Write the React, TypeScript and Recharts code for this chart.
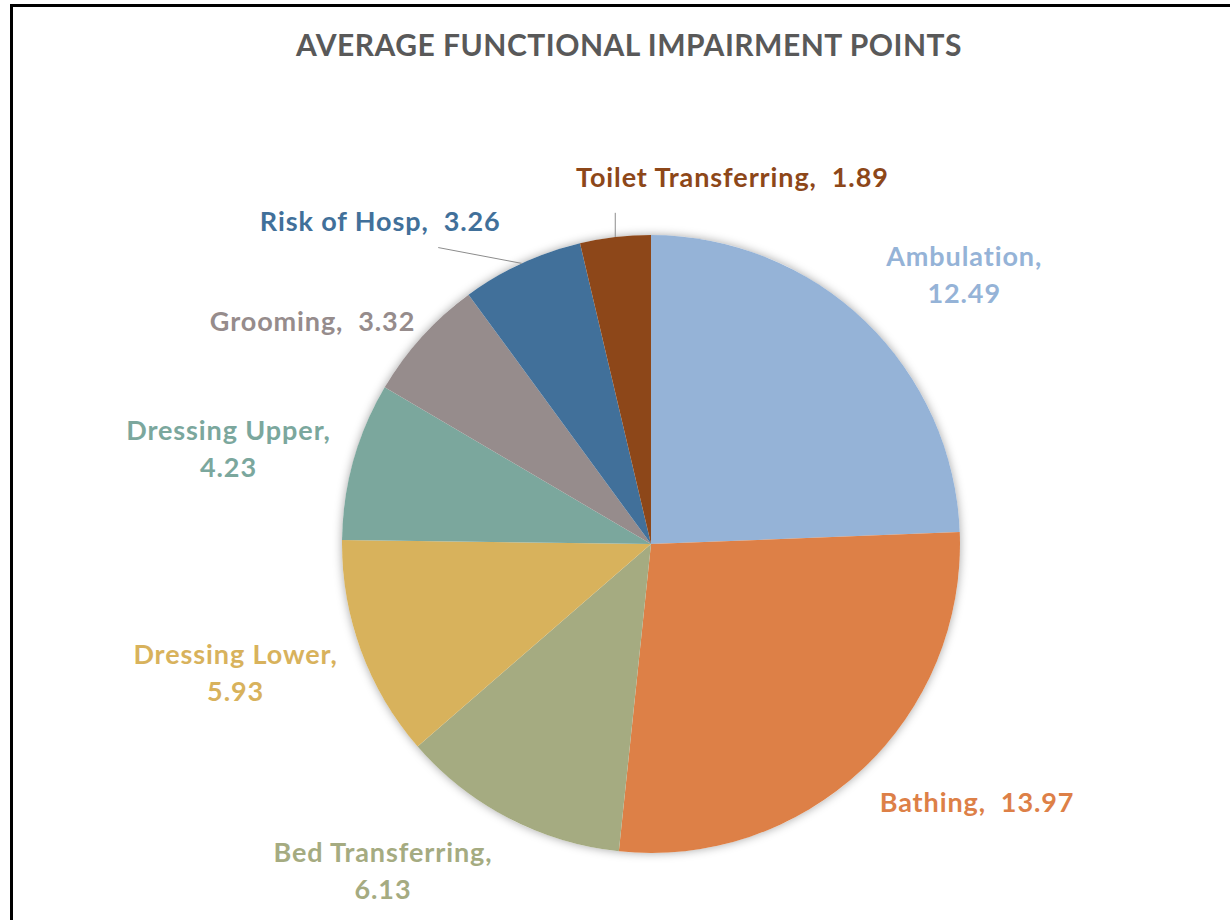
import React from 'react';
import { PieChart, Pie, Cell } from 'recharts';

const categories = [
  'Ambulation',
  'Bathing',
  'Bed Transferring',
  'Dressing Lower',
  'Dressing Upper',
  'Grooming',
  'Risk of Hosp',
  'Toilet Transferring',
];
const points = [12.49, 13.97, 6.13, 5.93, 4.23, 3.32, 3.26, 1.89];
const colors = ['#95B3D7', '#DD8047', '#A5AB81', '#D8B25C', '#7BA79D', '#968C8C', '#41709A', '#8D4719'];

const chartData = categories.map((name, i) => ({ name, value: points[i] }));

// label placement tweaks (offset from a point 420px out along the slice middle)
const labelLayout: Record<string, { dx: number; dy: number; wrap: boolean; line?: [number, number] }> = {
  'Ambulation': { dx: 22, dy: 32, wrap: true },
  'Bathing': { dx: 39, dy: -49, wrap: false },
  'Bed Transferring': { dx: -74, dy: -47, wrap: true },
  'Dressing Lower': { dx: -21, dy: -17, wrap: true },
  'Dressing Upper': { dx: -18, dy: 16, wrap: true },
  'Grooming': { dx: -27, dy: 58, wrap: false },
  'Risk of Hosp': { dx: -95, dy: 58, wrap: false, line: [58, 27] },
  'Toilet Transferring': { dx: 130, dy: 50, wrap: false, line: [-116, 36] },
};

const RAD = Math.PI / 180;
const FONT = 'Lato, "Open Sans", sans-serif';

const renderLabel = (props: any) => {
  const { cx, cy, midAngle, outerRadius, index } = props;
  const name = categories[index];
  const value = points[index].toFixed(2);
  const lay = labelLayout[name];
  const cos = Math.cos(-midAngle * RAD);
  const sin = Math.sin(-midAngle * RAD);
  const x = cx + 420 * cos + lay.dx;
  const y = cy + 420 * sin + lay.dy;
  const color = colors[index];
  let leader = null;
  if (lay.line) {
    const sx = cx + outerRadius * cos;
    const sy = cy + outerRadius * sin;
    const ex = index === 7 ? sx : x + lay.line[0];
    const ey = y + lay.line[1];
    leader = <line x1={sx} y1={sy} x2={ex} y2={ey} stroke="#8c8c8c" strokeWidth={1} />;
  }
  return (
    <g key={`lbl-${index}`}>
      {leader}
      <text
        x={x}
        y={y}
        fill={color}
        textAnchor="middle"
        dominantBaseline="central"
        fontFamily={FONT}
        fontWeight={700}
        fontSize={27}
        letterSpacing={0.9}
        style={{ whiteSpace: 'pre' }}
      >
        {lay.wrap ? (
          <>
            <tspan x={x} dy={-18}>{`${name},`}</tspan>
            <tspan x={x} dy={37}>{value}</tspan>
          </>
        ) : (
          `${name},  ${value}`
        )}
      </text>
    </g>
  );
};

export default function App() {
  return (
    <div style={{ position: 'absolute', left: 0, top: 0, width: 1230, height: 920, overflow: 'hidden', background: '#fff' }}>
      <style>{`.pie-shadow path { filter: drop-shadow(0px 0px 5px rgba(0,0,0,0.35)); }`}</style>
      <div
        style={{
          position: 'absolute',
          left: 10,
          top: 4,
          width: 1400,
          height: 1100,
          border: '3px solid #000',
          boxSizing: 'border-box',
        }}
      />
      <div style={{ position: 'absolute', left: 0, top: 0 }}>
        <PieChart width={1230} height={920} margin={{ top: 0, right: 0, bottom: 0, left: 0 }}>
          <text
            x={629}
            y={44}
            textAnchor="middle"
            dominantBaseline="central"
            fill="#595959"
            fontFamily={FONT}
            fontWeight={700}
            fontSize={30}
            letterSpacing={0.5}
          >
            AVERAGE FUNCTIONAL IMPAIRMENT POINTS
          </text>
          <Pie
            data={[{ name: 'bg', value: 1 }]}
            dataKey="value"
            cx={651}
            cy={544}
            outerRadius={309}
            startAngle={90}
            endAngle={-270}
            className="pie-shadow"
            fill="#ffffff"
            stroke="none"
            isAnimationActive={false}
          />
          <Pie
            data={chartData}
            dataKey="value"
            nameKey="name"
            cx={651}
            cy={544}
            outerRadius={309}
            startAngle={90}
            endAngle={-270}
            stroke="none"
            label={renderLabel}
            labelLine={false}
            isAnimationActive={false}
          >
            {chartData.map((d, i) => (
              <Cell key={d.name} fill={colors[i]} />
            ))}
          </Pie>
        </PieChart>
      </div>
    </div>
  );
}
